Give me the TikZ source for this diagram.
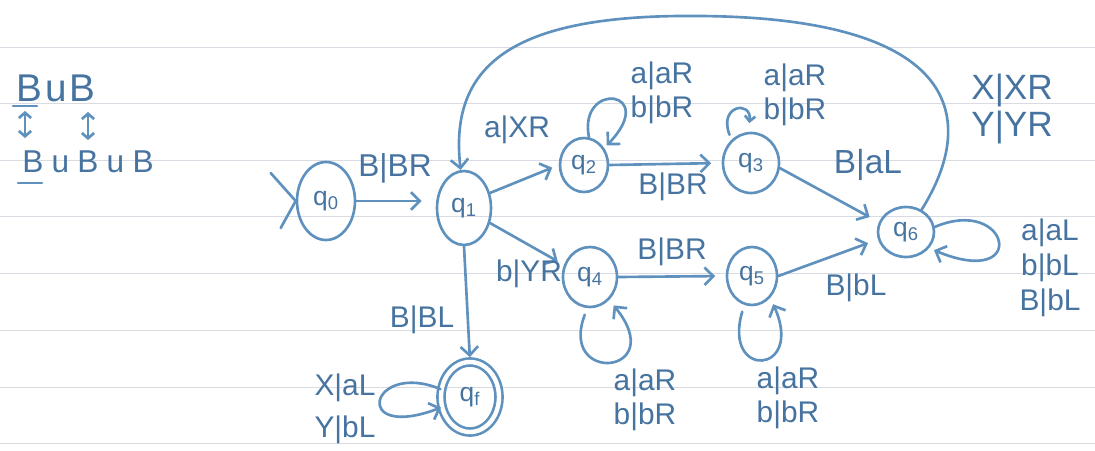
\documentclass[tikz,border=0pt]{standalone}
\usepackage{fontspec}
\setmainfont{Liberation Sans}
\usepackage{xcolor}
\usepackage{tikz}
\usetikzlibrary{arrows.meta,shapes.geometric}

\definecolor{pen}{RGB}{95,145,190}
\definecolor{ink}{RGB}{70,115,160}
\definecolor{ruled}{RGB}{218,218,226}

\begin{document}
\begin{tikzpicture}[
      x=0.02cm, y=-0.02cm,
      >={Straight Barb[length=5pt,width=10pt]},
      pen/.style={draw=pen, line width=1.5pt, line cap=round, line join=round},
      arr/.style={pen, ->},
      state/.style={ellipse, pen, inner sep=0pt, text=ink,
        font=\fontsize{15}{15}\selectfont},
      accept/.style={state, double, double distance=2.5pt},
      label/.style={text=ink, font=\fontsize{17}{19}\selectfont,
        align=center, inner sep=1pt}
    ]
    \useasboundingbox[fill=white] (0,0) rectangle (1095,450);
    \foreach \yy in {47,103,160,216,273,330,387,443}
      \draw[ruled, line width=0.4pt] (0,\yy) -- (1095,\yy);

    % tape sketch
    \node[label, font=\fontsize{22}{22}\selectfont\addfontfeature{LetterSpace=8}]
      (tapeA) at (56,88) {BuB};
    \node[label, font=\fontsize{18}{18}\selectfont\addfontfeature{LetterSpace=26}]
      (tapeB) at (88,162) {BuBuB};
    \coordinate (ulA1) at (13,106);  \coordinate (ulA2) at (37,106);
    \coordinate (ulB1) at (18,183);  \coordinate (ulB2) at (42,183);
    \coordinate (hA1) at (25,111);   \coordinate (hA2) at (25,138);
    \coordinate (hB1) at (88,112);   \coordinate (hB2) at (88,140);
    \draw[pen] (ulA1) -- (ulA2);
    \draw[pen] (ulB1) -- (ulB2);
    \draw[pen, <->, >={Straight Barb[length=3pt,width=7pt]}] (hA1) -- (hA2);
    \draw[pen, <->, >={Straight Barb[length=3pt,width=7pt]}] (hB1) -- (hB2);

    % states
    \node[state, minimum width=1.16cm, minimum height=1.56cm] (q0) at (326,201) {q\textsubscript{0}};
    \node[state, minimum width=1.08cm, minimum height=1.48cm] (q1) at (464,208) {q\textsubscript{1}};
    \node[state, minimum width=0.96cm, minimum height=1.08cm] (q2) at (584,165) {q\textsubscript{2}};
    \node[state, minimum width=1.12cm, minimum height=1.20cm] (q3) at (751,163) {q\textsubscript{3}};
    \node[state, minimum width=1.08cm, minimum height=1.20cm] (q4) at (590,277) {q\textsubscript{4}};
    \node[state, minimum width=1.00cm, minimum height=1.16cm] (q5) at (752,276) {q\textsubscript{5}};
    \node[state, minimum width=1.12cm, minimum height=1.00cm] (q6) at (906,232) {q\textsubscript{6}};
    \node[accept, minimum width=1.16cm, minimum height=1.40cm] (qf) at (470,397) {q\textsubscript{f}};

    % start mark
    \draw[pen] ([shift={(-25,-28)}]q0.west) -- (q0.west) -- ([shift={(-15,27)}]q0.west);

    % straight moves
    \draw[arr, shorten >=8pt] (q0.east) -- (q0.east -| q1.west);
    \node[label, font=\fontsize{18}{18}\selectfont] at (395,168) {B|BR};
    \draw[arr, shorten >=4pt] (q1.30) -- (q2.west);
    \node[label] at (517,130) {a|XR};
    \draw[arr, shorten >=4pt] (q1.-30) -- (q4.155);
    \node[label] at (529,274) {b|YR};
    \draw[arr, shorten >=6pt] (q2.east) -- (q3.west);
    \node[label] at (673,187) {B|BR};
    \draw[arr, shorten >=6pt] (q4.east) -- (q5.west);
    \node[label] at (672,252) {B|BR};
    \draw[arr, shorten >=6pt] (q3.-10) -- (q6.160);
    \node[label, font=\fontsize{19}{19}\selectfont] at (868,165) {B|aL};
    \draw[arr, shorten >=6pt] (q5.east) -- (q6.195);
    \node[label] at (856,288) {B|bL};
    \draw[arr, shorten >=2pt] (q1.south) -- (qf.north);
    \node[label] at (422,320) {B|BL};

    % loops
    \draw[arr, shorten >=2pt] (q2.80) .. controls (578,80) and (660,90) .. (q2.40);
    \node[label] at (662,93) {a|aR\\b|bR};
    \draw[arr, >={Straight Barb[length=3pt,width=6pt]}, shorten <=3pt, shorten >=5pt]
      (q3.130) .. controls (718,105) and (752,100) .. (q3.95);
    \node[label] at (795,95) {a|aR\\b|bR};
    \draw[arr, shorten <=4pt, shorten >=4pt] (q4.265) .. controls (558,385) and (670,375) .. (q4.310);
    \node[label] at (645,400) {a|aR\\b|bR};
    \draw[arr, shorten <=4pt, shorten >=4pt] (q5.255) .. controls (722,380) and (805,375) .. (q5.310);
    \node[label] at (788,398) {a|aR\\b|bR};
    \draw[arr, shorten >=3pt] (q6.10) .. controls (1010,195) and (1030,290) .. (q6.-35);
    \node[label, font=\fontsize{17}{20}\selectfont] at (1050,268) {a|aL\\b|bL\\B|bL};
    \draw[arr] (qf.165) .. controls (370,360) and (350,442) .. (qf.200);
    \node[label] at (345,409) {X|aL\\[5pt]Y|bL};

    % back to q1
    \draw[arr] (q6.55) .. controls (978,120) and (962,18) .. (700,16)
      .. controls (520,14) and (448,60) .. (q1.95);
    \node[label, font=\fontsize{20}{21}\selectfont] at (1012,109) {X|XR\\Y|YR};
  \end{tikzpicture}
\end{document}
